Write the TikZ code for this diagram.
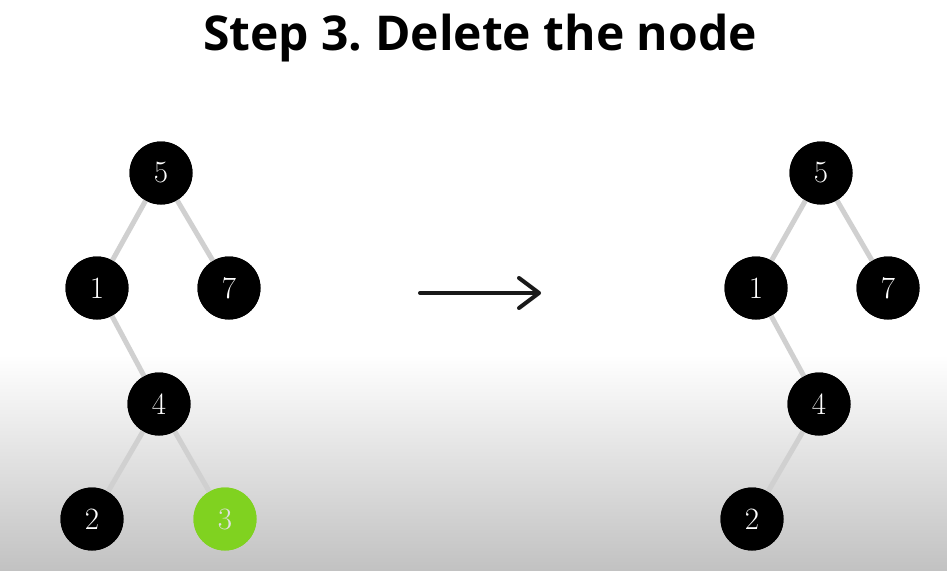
\documentclass[tikz,border=0pt]{standalone}
\usepackage{fontspec}
\newfontfamily\titlefont{Open Sans}
\usetikzlibrary{arrows.meta}
\definecolor{edgegray}{RGB}{208,208,208}
\definecolor{leafgreen}{RGB}{128,210,32}
\definecolor{bggray}{RGB}{194,194,194}
\begin{document}
\begin{tikzpicture}[x=1pt,y=-1pt,
  tnode/.style={circle,fill=black,draw=none,minimum size=63pt,inner sep=0pt,text=white,font=\fontsize{31}{36}\selectfont},
  gnode/.style={tnode,fill=leafgreen,text=white!88!black},
  tedge/.style={draw=edgegray,line width=5pt},
  bigarrow/.style={draw=black!90,line width=4pt,line cap=round,-{Straight Barb[length=20pt,width=30pt,line cap=round,line join=round]}}]
\useasboundingbox (0,0) rectangle (947,570);
\fill[white] (0,0) rectangle (947,356);
\shade[top color=white,bottom color=bggray] (0,355) rectangle (947,570);
\node[font=\titlefont\bfseries\fontsize{48}{54}\selectfont\frenchspacing,anchor=base] (title) at (480,50) {Step 3. Delete the node};
% left tree
\node[tnode] (a5) at (161,173) {5};
\node[tnode] (a1) at (97,288) {1};
\node[tnode] (a7) at (229,288) {7};
\node[tnode] (a4) at (159,404) {4};
\node[tnode] (a2) at (92,519) {2};
\node[gnode] (a3) at (225,519) {3};
% right tree
\node[tnode] (b5) at (821,173) {5};
\node[tnode] (b1) at (756,288) {1};
\node[tnode] (b7) at (888,288) {7};
\node[tnode] (b4) at (819,404) {4};
\node[tnode] (b2) at (752,519) {2};
\path[tedge] (a5.center) -- (a1.center) (a5.center) -- (a7.center) (a1.center) -- (a4.center) (a4.center) -- (a2.center) (a4.center) -- (a3.center);
\path[tedge] (b5.center) -- (b1.center) (b5.center) -- (b7.center) (b1.center) -- (b4.center) (b4.center) -- (b2.center);
% redraw nodes on top of the edges
\node[tnode] at (a5) {5};
\node[tnode] at (a1) {1};
\node[tnode] at (a7) {7};
\node[tnode] at (a4) {4};
\node[tnode] at (a2) {2};
\node[gnode] at (a3) {3};
\node[tnode] at (b5) {5};
\node[tnode] at (b1) {1};
\node[tnode] at (b7) {7};
\node[tnode] at (b4) {4};
\node[tnode] at (b2) {2};
\coordinate (arrS) at (420,293);
\coordinate (arrE) at (541,293);
\draw[bigarrow] (arrS) -- (arrE);
\end{tikzpicture}
\end{document}
